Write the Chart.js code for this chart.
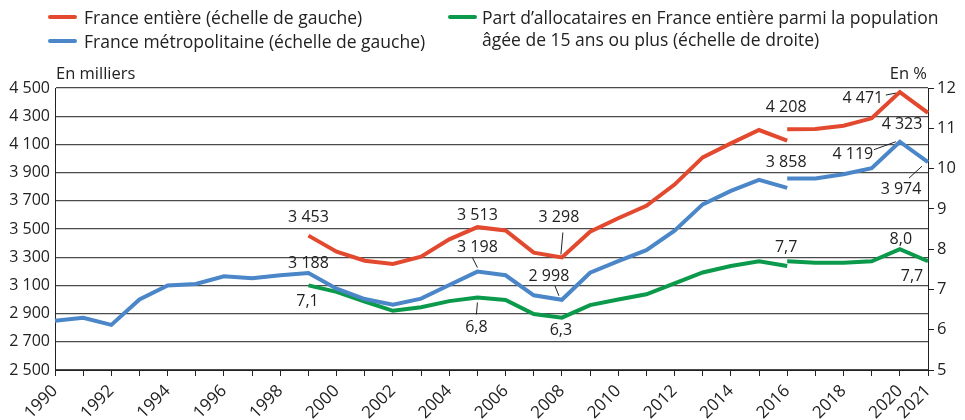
<!DOCTYPE html>
<html lang="fr">
<head>
<meta charset="utf-8">
<script src="https://cdn.jsdelivr.net/npm/chart.js@4"></script>
<style>
  html, body { margin: 0; padding: 0; background: #fff; }
  #wrap { position: relative; width: 965px; height: 420px; font-family: "Open Sans", sans-serif; color: #222; }
  canvas { position: absolute; left: 0; top: 0; }
  .leg { position: absolute; font-size: 17.5px; line-height: 22px; color: #222; white-space: nowrap; }
  .sw { position: absolute; width: 29px; height: 4px; border-radius: 2px; }
</style>
</head>
<body>
<div id="wrap">
  <canvas id="c" width="965" height="420"></canvas>
  <div class="sw" style="left:48px;top:15px;background:#e2492f"></div>
  <div class="leg" style="left:84px;top:6px">France entière (échelle de gauche)</div>
  <div class="sw" style="left:48px;top:39px;background:#4a86c8"></div>
  <div class="leg" style="left:84px;top:30px">France métropolitaine (échelle de gauche)</div>
  <div class="sw" style="left:448px;top:15px;background:#0b9a4b"></div>
  <div class="leg" style="left:482px;top:6px">Part d’allocataires en France entière parmi la population<br>âgée de 15 ans ou plus (échelle de droite)</div>
</div>
<script>
const years = [1990,1991,1992,1993,1994,1995,1996,1997,1998,1999,2000,2001,2002,2003,2004,2005,2006,2007,2008,2009,2010,2011,2012,2013,2014,2015,2016,2017,2018,2019,2020,2021];

const redOld = [null,null,null,null,null,null,null,null,null,
  3453,3339,3275,3252,3304,3427,3513,3490,3332,3298,3481,3576,3665,3815,4008,4107,4202,4127,
  null,null,null,null,null];
const redNew = [null,null,null,null,null,null,null,null,null,null,null,null,null,null,null,null,null,null,null,null,null,null,null,null,null,null,
  4208,4210,4232,4285,4471,4323];
const blueOld = [2850,2870,2820,3000,3100,3110,3165,3150,3172,
  3188,3077,3003,2963,3006,3103,3198,3172,3030,2998,3190,3272,3350,3488,3675,3770,3848,3792,
  null,null,null,null,null];
const blueNew = [null,null,null,null,null,null,null,null,null,null,null,null,null,null,null,null,null,null,null,null,null,null,null,null,null,null,
  3858,3858,3888,3932,4119,3974];
const greenOld = [null,null,null,null,null,null,null,null,null,
  7.1,6.94,6.7,6.47,6.56,6.71,6.8,6.74,6.39,6.3,6.61,6.75,6.88,7.15,7.42,7.58,7.7,7.58,
  null,null,null,null,null];
const greenNew = [null,null,null,null,null,null,null,null,null,null,null,null,null,null,null,null,null,null,null,null,null,null,null,null,null,null,
  7.7,7.66,7.66,7.7,8.0,7.7];

const leftTicks = [2500,2700,2900,3100,3300,3500,3700,3900,4100,4300,4500];
const rightTicks = [5,6,7,8,9,10,11,12];
const xLabelYears = [1990,1992,1994,1996,1998,2000,2002,2004,2006,2008,2010,2012,2014,2016,2018,2020,2021];

const RED = '#e2492f', BLUE = '#4a86c8', GREEN = '#0b9a4b';
const FONT = '"Open Sans", sans-serif';

// datasets: 0 redOld, 1 redNew, 2 blueOld, 3 blueNew, 4 greenOld, 5 greenNew
const labelSpecs = [
  {ds:0, year:1999, dx:0,   dy:-18},
  {ds:2, year:1999, dx:0,   dy:-10},
  {ds:4, year:1999, dx:-1,  dy:16},
  {ds:0, year:2005, dx:0,   dy:-12},
  {ds:2, year:2005, dx:0,   dy:-24, lead:[-5,-14,0,-4]},
  {ds:4, year:2005, dx:-1,  dy:30,  lead:[0,5,-1,17]},
  {ds:0, year:2008, dx:-3,  dy:-40, lead:[1,-25,-1,-3]},
  {ds:2, year:2008, dx:-13, dy:-23, lead:[-7,-14,-3,-4]},
  {ds:4, year:2008, dx:-1,  dy:13},
  {ds:1, year:2016, dx:-1,  dy:-22},
  {ds:3, year:2016, dx:-1,  dy:-16},
  {ds:5, year:2016, dx:-1,  dy:-14},
  {ds:1, year:2020, dx:-37, dy:6,   lead:[-14,3,-4,1]},
  {ds:1, year:2021, dx:-26, dy:11},
  {ds:3, year:2020, dx:-47, dy:13,  lead:[-26,8,-4,0]},
  {ds:3, year:2021, dx:-27, dy:27,  lead:[-19,16,-6,4]},
  {ds:5, year:2020, dx:1,   dy:-10},
  {ds:5, year:2021, dx:-16, dy:15}
];

function fmtThousands(v) { return String(v).replace(/\B(?=(\d{3})+(?!\d))/g, ' '); }
function fmtPct(v) { return v.toFixed(1).replace('.', ','); }

const labelPlugin = {
  id: 'valueLabels',
  afterDatasetsDraw(chart) {
    const ctx = chart.ctx;
    ctx.save();
    ctx.font = '16px ' + FONT;
    ctx.fillStyle = '#222';
    ctx.strokeStyle = '#222';
    ctx.lineWidth = 1;
    ctx.textAlign = 'center';
    ctx.textBaseline = 'middle';
    labelSpecs.forEach(s => {
      const idx = years.indexOf(s.year);
      const ds = chart.data.datasets[s.ds];
      const v = ds.data[idx];
      const pt = chart.getDatasetMeta(s.ds).data[idx];
      const x = pt.x, y = pt.y;
      const txt = ds.yAxisID === 'yR' ? fmtPct(v) : fmtThousands(v);
      ctx.fillText(txt, x + s.dx, y + s.dy);
      if (s.lead) {
        ctx.beginPath();
        ctx.moveTo(x + s.lead[0], y + s.lead[1]);
        ctx.lineTo(x + s.lead[2], y + s.lead[3]);
        ctx.stroke();
      }
    });
    ctx.restore();
  }
};

const axisTitles = {
  id: 'axisTitles',
  afterDraw(chart) {
    const ctx = chart.ctx, a = chart.chartArea;
    ctx.save();
    ctx.font = '16.5px ' + FONT;
    ctx.fillStyle = '#222';
    ctx.textBaseline = 'middle';
    ctx.textAlign = 'left';
    ctx.fillText('En milliers', a.left + 1, 74);
    ctx.textAlign = 'right';
    ctx.fillText('En %', a.right - 1, 74);
    ctx.restore();
  }
};

function lineDs(label, data, color, axis) {
  return {
    label, data, yAxisID: axis,
    borderColor: color, backgroundColor: color,
    borderWidth: 4, pointRadius: 0, pointHoverRadius: 0,
    tension: 0, spanGaps: false, fill: false,
    borderJoinStyle: 'miter', borderCapStyle: 'butt'
  };
}

new Chart(document.getElementById('c'), {
  type: 'line',
  data: {
    labels: years.map(String),
    datasets: [
      lineDs('France entière (échelle de gauche)', redOld, RED, 'yL'),
      lineDs('France entière (échelle de gauche)', redNew, RED, 'yL'),
      lineDs('France métropolitaine (échelle de gauche)', blueOld, BLUE, 'yL'),
      lineDs('France métropolitaine (échelle de gauche)', blueNew, BLUE, 'yL'),
      lineDs('Part d’allocataires', greenOld, GREEN, 'yR'),
      lineDs('Part d’allocataires', greenNew, GREEN, 'yR')
    ]
  },
  options: {
    responsive: false,
    animation: false,
    events: [],
    layout: { padding: { top: 88, left: 0, right: 0, bottom: 0 } },
    plugins: { legend: { display: false }, tooltip: { enabled: false } },
    scales: {
      x: {
        type: 'category',
        offset: false,
        grid: { drawOnChartArea: false, drawTicks: true, tickLength: 6, color: '#222', lineWidth: 1 },
        border: { display: true, color: '#222', width: 1 },
        ticks: {
          autoSkip: false, minRotation: 45, maxRotation: 45, padding: 5,
          color: '#222', font: { family: FONT, size: 17 },
          callback(val, i) { const y = years[i]; return xLabelYears.includes(y) ? String(y) : ''; }
        },
        afterFit(s) { s.height = 50; }
      },
      yL: {
        position: 'left', min: 2500, max: 4500,
        afterBuildTicks(s) { s.ticks = leftTicks.map(v => ({ value: v })); },
        grid: { drawOnChartArea: true, drawTicks: false, color: '#4a4a4a', lineWidth: 1.2 },
        border: { display: true, color: '#222', width: 1 },
        ticks: { padding: 5, color: '#222', font: { family: FONT, size: 16 }, callback: v => fmtThousands(v) },
        afterFit(s) { s.width = 55; }
      },
      yR: {
        position: 'right', min: 5, max: 12,
        afterBuildTicks(s) { s.ticks = rightTicks.map(v => ({ value: v })); },
        grid: { drawOnChartArea: false, drawTicks: true, tickLength: 6, color: '#222', lineWidth: 1 },
        border: { display: true, color: '#222', width: 1 },
        ticks: { padding: 3, color: '#222', font: { family: FONT, size: 16.5 } },
        afterFit(s) { s.width = 37; }
      }
    }
  },
  plugins: [labelPlugin, axisTitles]
});
</script>
</body>
</html>
